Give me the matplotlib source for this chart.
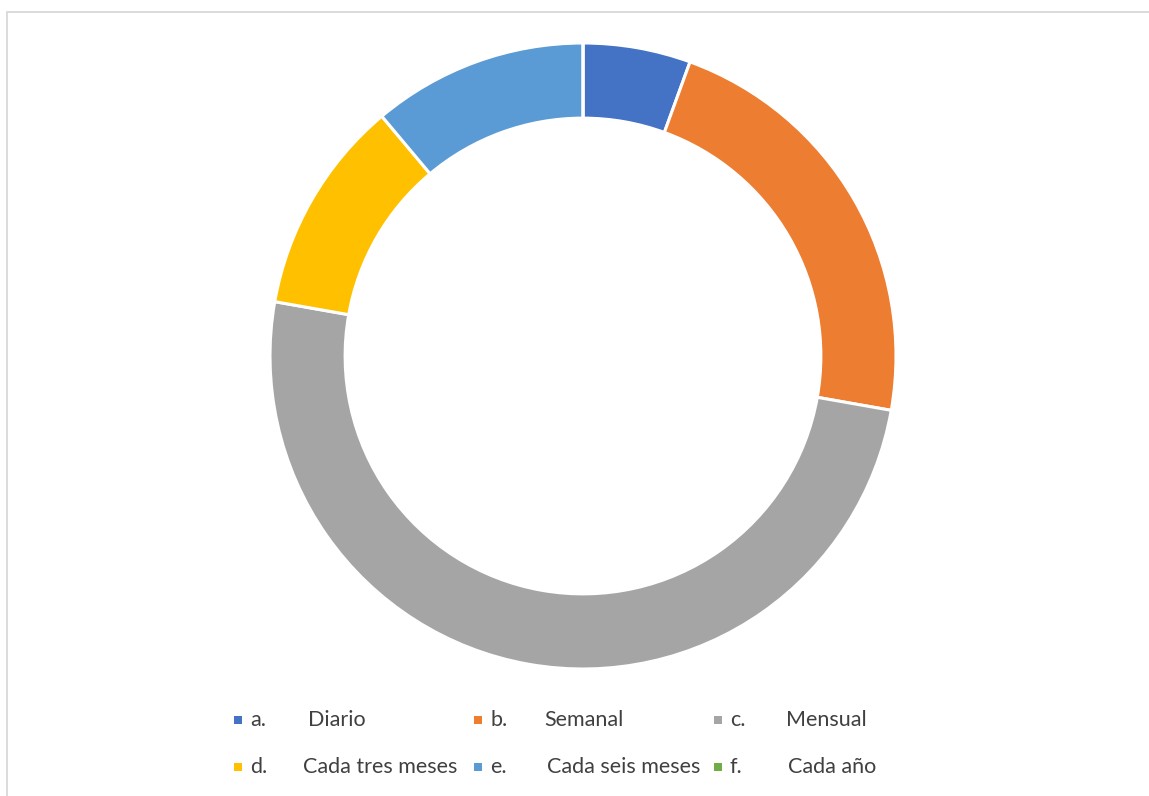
import matplotlib
matplotlib.use("Agg")
import matplotlib.pyplot as plt
from matplotlib.patches import Rectangle

letters = ["a.", "b.", "c.", "d.", "e.", "f."]
categories = ["Diario", "Semanal", "Mensual", "Cada tres meses", "Cada seis meses", "Cada año"]
values = [1, 4, 9, 2, 2, 0]
colors = ["#4472C4", "#ED7D31", "#A5A5A5", "#FFC000", "#5B9BD5", "#70AD47"]

W, H = 1149, 796
fig = plt.figure(figsize=(W / 100, H / 100), dpi=100)
fig.patch.set_facecolor("white")

# chart border (partially cropped on right/bottom)
fig.patches.append(Rectangle((7 / W, -0.01), 1.2, 1 - 12 / H + 0.01, transform=fig.transFigure,
                             fill=False, edgecolor="#D9D9D9", linewidth=1.3))

cx, cy, r = 583, 356, 313
ax = fig.add_axes([(cx - r) / W, (H - cy - r) / H, 2 * r / W, 2 * r / H])
ax.pie(values, colors=colors, startangle=90, counterclock=False, radius=1,
       wedgeprops=dict(width=0.24, edgecolor="white", linewidth=2.2))
ax.set_xlim(-1, 1)
ax.set_ylim(-1, 1)
ax.set_aspect("equal")
ax.axis("off")

# legend
col_x = [238, 478, 718]
row_y = [720, 767]
name_off = [70, 66, 68, 65, 69, 70]
for i, (let, name, c) in enumerate(zip(letters, categories, colors)):
    x = col_x[i % 3]
    y = row_y[i // 3]
    fig.patches.append(Rectangle(((x - 4) / W, 1 - (y + 4) / H), 8 / W, 8 / H,
                                 transform=fig.transFigure, facecolor=c, edgecolor="none"))
    fig.text((x + 12) / W, 1 - y / H, let, fontsize=15.5, family="Lato", color="#404040", va="center")
    fig.text((x + name_off[i]) / W, 1 - y / H, name, fontsize=15.5, family="Lato", color="#404040", va="center")

fig.savefig("out.png", dpi=100)
